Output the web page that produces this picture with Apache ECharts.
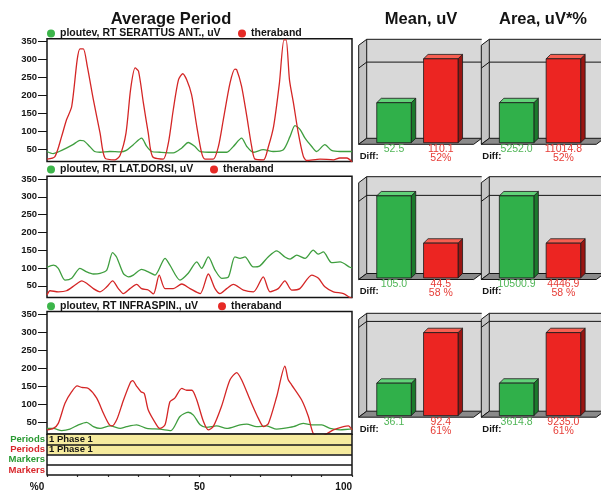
<!DOCTYPE html>
<html>
<head>
<meta charset="utf-8">
<script src="https://cdn.jsdelivr.net/npm/echarts@6/dist/echarts.min.js"></script>
<style>
html,body{margin:0;padding:0;background:#fff;}
#chart{width:601px;height:492px;}
</style>
</head>
<body>
<div id="chart"></div>
<script>
// ---------- data: EMG envelopes (uV) over one averaged period (%) ----------
const serratusPloutev = [[0,45],[2,39],[4,45],[6.5,55],[8.5,64],[10.8,76],[12,75],[14,59],[15.6,45],[17.4,43],[20.6,45],[24,44],[26,48],[28.3,64],[31,82],[32.7,59],[34.3,45],[37,43],[41.4,41],[44.2,55],[46.3,70],[48.5,59],[50.2,45],[54.5,43],[59,43],[61.1,59],[63.8,82],[65.5,59],[67.6,43],[70.9,50],[74.2,45],[77.5,50],[79.7,87],[81.3,117],[83,106],[84.6,82],[86.8,59],[88.4,45],[91.1,64],[93.3,48],[96.1,45],[100,45]];
const serratusTheraband = [[0,24],[2.6,31],[4.8,87],[6.4,133],[8.1,170],[9.9,300],[10.8,330],[11.9,330],[13.2,282],[15.2,189],[17.4,96],[19,27],[22.3,22],[23.9,33],[25.9,96],[27.4,217],[28.9,277],[30,268],[31.6,180],[33.2,96],[34.6,31],[38.1,24],[39.8,69],[41.4,161],[43.1,244],[44.5,261],[45.8,244],[47.4,203],[49.1,115],[50.7,41],[51.8,24],[54.5,24],[56.2,59],[57.8,133],[60,235],[61.6,274],[62.2,272],[63.8,226],[65.5,143],[67.1,59],[68.2,24],[71,22],[72.6,59],[74.3,115],[76.2,235],[77.7,355],[78.4,355],[79.5,244],[80.8,180],[82.4,96],[84,33],[85.1,20],[89.5,24],[93.9,22],[96,27],[98.3,27],[100,16]];
const latDorsiPloutev = [[0,102],[2.1,108],[3.7,99],[5.9,66],[8.1,71],[10.8,99],[13,89],[15.2,83],[17.4,85],[19.6,94],[21.5,143],[22.8,131],[25,85],[26.7,75],[28.3,80],[31,96],[33.2,89],[35.4,80],[38.7,127],[40.3,108],[43.6,66],[46.3,85],[49.1,117],[50.7,99],[52.9,131],[55.1,94],[57.3,71],[59.5,75],[61.6,131],[63.3,127],[64.9,131],[67.6,103],[69.8,106],[72.5,131],[75.3,148],[78,131],[79.7,125],[81.9,136],[84.6,127],[87.3,150],[88.9,139],[90.6,145],[93.3,115],[96.1,117],[99.3,102],[100,100]];
const latDorsiTheraband = [[0,24],[1,36],[3.7,33],[6.4,36],[9.2,52],[11.4,64],[13,57],[15.2,42],[17.4,33],[19.6,47],[21.5,64],[23.4,42],[25,28],[27.2,42],[29.4,54],[31,42],[33.2,38],[34.9,27],[36.8,80],[38.7,42],[41.4,42],[44.2,55],[46.9,42],[50.2,28],[52.9,83],[55.1,42],[56.7,28],[58.9,42],[61.1,54],[64.4,38],[67.7,33],[70.9,75],[73.1,33],[75.8,42],[78,64],[80.2,38],[82.9,42],[86.8,80],[89,71],[91.1,47],[93.9,33],[97.2,28],[99.3,17],[100,15]];
const infraspinPloutev = [[0,33],[2.1,33],[4.8,27],[7.5,31],[10.3,43],[13,50],[15.2,38],[17.4,33],[20.7,40],[24,33],[26.1,38],[29.4,43],[32.7,33],[37,31],[40.6,27],[43.6,66],[46.3,78],[48,70],[50.2,43],[52.3,36],[55.6,40],[58.9,33],[63.3,43],[65.5,45],[68.7,38],[72,40],[75.3,31],[77.5,33],[80.8,38],[84,47],[86.8,43],[90.1,43],[92.8,33],[96.1,29],[99.3,31],[100,31]];
const infraspinTheraband = [[0,29],[2.1,33],[3.7,47],[5.9,103],[8.1,135],[9.9,151],[11.4,147],[13.6,144],[16.3,117],[18.5,75],[20.3,45],[21.3,40],[23,60],[25,110],[27.3,160],[28.1,166],[29.4,150],[30.8,135],[31.9,130],[33.2,84],[35.9,43],[37,33],[38.7,43],[40.3,107],[41.9,117],[44.2,144],[45.8,139],[47.5,139],[49.1,112],[51.3,52],[52.9,29],[54.5,38],[57.2,94],[60,168],[62.2,188],[63.8,168],[66.6,112],[69.3,61],[71,38],[72.6,47],[75.3,121],[78,206],[79.1,168],[80.2,154],[83.5,112],[85.7,66],[87.3,19],[89.5,10],[93.9,29],[97.2,38],[98.8,40],[100,29]];

const ploutevNames = ['ploutev, RT SERATTUS ANT., uV', 'ploutev, RT LAT.DORSI, uV', 'ploutev, RT INFRASPIN., uV'];
const therabandName = 'theraband';
const yTickValues = [50, 100, 150, 200, 250, 300, 350];
const xLabelValues = [0, 50, 100];

// per-muscle summaries
const meanPloutev = [52.5, 105.0, 36.1];
const meanTheraband = [110.1, 44.5, 92.4];
const areaPloutev = [5252.0, 10500.9, 3614.8];
const areaTheraband = [11014.8, 4446.9, 9235.0];
const diffPercent = ['52%', '58 %', '61%'];
const meanGridValue = 100;
const areaGridValue = 10000;

// period / marker rows
const rowLabels = ['Periods', 'Periods', 'Markers', 'Markers'];
const periodEnd = [100, 100];
const periodNames = ['1 Phase 1', '1 Phase 1'];

// ---------- styling ----------
const FONT = 'Liberation Sans, Arial, Helvetica, sans-serif';
const INK = '#141414';
const GREEN_LINE = '#3f9e3f', RED_LINE = '#d42626';
const GREEN_TXT = '#2a9a33', RED_TXT = '#d8262b';
const SHADES = [
  {front: '#30b04a', top: '#62d279', side: '#1b7a2c', text: '#4fb556'},
  {front: '#ec2522', top: '#f75f52', side: '#9a1512', text: '#e63c36'}
];

const chart = echarts.init(document.getElementById('chart'), null, {renderer: 'canvas'});

const lineGrids = [
  {left: 47, width: 305, top: 38.8, height: 122.8},
  {left: 47, width: 305, top: 176.2, height: 121.3},
  {left: 47, width: 305, top: 311.4, height: 122.8}
];
const periodsGrid = {left: 47, width: 305, top: 434.2, height: 43.8};
const barRows = [[39.3, 99], [176.7, 96.8], [313.3, 97.9]];
const barLefts = [375.1, 497.7];

const grid = [], xAxis = [], yAxis = [], series = [];

// ----- line panels -----
const panelSeries = [
  [serratusPloutev, serratusTheraband],
  [latDorsiPloutev, latDorsiTheraband],
  [infraspinPloutev, infraspinTheraband]
];
lineGrids.forEach((g, i) => {
  grid.push(Object.assign({show: true, backgroundColor: '#fff', borderColor: INK, borderWidth: 1.5}, g));
  xAxis.push({gridIndex: i, type: 'value', min: 0, max: 100, show: false});
  yAxis.push({
    gridIndex: i, type: 'value', min: 17, max: 358,
    axisLine: {show: false}, splitLine: {show: false},
    axisTick: {show: true, length: 9, customValues: yTickValues, lineStyle: {color: INK, width: 1}},
    axisLabel: {customValues: yTickValues, margin: 10, fontSize: 9.5, fontWeight: 'bold', fontFamily: FONT, color: INK}
  });
  series.push({
    type: 'line', name: ploutevNames[i], xAxisIndex: i, yAxisIndex: i,
    data: panelSeries[i][0], showSymbol: false, smooth: 0.25, z: 3,
    lineStyle: {color: GREEN_LINE, width: 1.3}, itemStyle: {color: '#3cb54a'}
  });
  series.push({
    type: 'line', name: therabandName, xAxisIndex: i, yAxisIndex: i,
    data: panelSeries[i][1], showSymbol: false, smooth: 0.25, z: 4,
    lineStyle: {color: RED_LINE, width: 1.3}, itemStyle: {color: '#e62a26'}
  });
});

// ----- periods / markers rows -----
grid.push(periodsGrid);
xAxis.push({
  gridIndex: 3, type: 'value', min: 0, max: 100, interval: 10, position: 'bottom',
  axisLine: {show: false}, splitLine: {show: false},
  axisTick: {show: true, length: 2, lineStyle: {color: '#333', width: 1.2}},
  axisLabel: {
    customValues: xLabelValues, margin: 7, fontSize: 10, fontWeight: 'bold', fontFamily: FONT, color: INK,
    alignMinLabel: 'right', alignMaxLabel: 'right',
    formatter: v => (v === 0 ? '%0 ' : String(v))
  }
});
const rowCats = rowLabels.map((t, i) => ({value: t, textStyle: {color: i % 2 === 0 ? GREEN_TXT : RED_TXT}}));
yAxis.push({
  gridIndex: 3, type: 'category', inverse: true, data: rowCats, z: 5,
  axisLine: {show: true, lineStyle: {color: INK, width: 1.5}}, axisTick: {show: false},
  splitLine: {show: true, interval: 0, lineStyle: {color: INK, width: 1.5}},
  axisLabel: {interval: 0, margin: 2, fontSize: 9.5, fontWeight: 'bold', fontFamily: FONT}
});
yAxis.push({
  gridIndex: 3, type: 'category', inverse: true, position: 'right', data: rowCats, z: 5,
  axisLine: {show: true, lineStyle: {color: INK, width: 1.5}}, axisTick: {show: false},
  axisLabel: {show: false}, splitLine: {show: false}
});
series.push({
  type: 'bar', name: 'periods', xAxisIndex: 3, yAxisIndex: 3, barWidth: '100%', silent: true,
  data: [periodEnd[0], periodEnd[1], '-', '-'],
  itemStyle: {color: '#f6eb9e'},
  label: {
    show: true, position: 'insideLeft', distance: 2,
    formatter: p => periodNames[p.dataIndex],
    color: INK, fontSize: 9.5, fontWeight: 'bold', fontFamily: FONT
  }
});

// ----- pseudo-3D summary bars -----
const BDX = 4.5, BDY = 4.4;   // bar depth
const WSX = 8, WSY = 6;       // wall / floor depth

function frameRenderer(gridValue) {
  return function (params, api) {
    const cs = params.coordSys;
    const wl = cs.x - 8.4, wr = wl + 115, top = cs.y, bot = cs.y + cs.height;
    const yg = api.coord([0, gridValue])[1];
    const edge = {stroke: INK, lineWidth: 1};
    return {type: 'group', children: [
      {type: 'rect', shape: {x: wl, y: top, width: wr - wl, height: bot - top}, style: {fill: '#d8d8d8'}},
      {type: 'polygon', shape: {points: [[wl - WSX, top + WSY], [wl, top], [wl, bot], [wl - WSX, bot + WSY]]},
        style: Object.assign({fill: '#c4c4c4'}, edge)},
      {type: 'polygon', shape: {points: [[wl, bot], [wr, bot], [wr - WSX, bot + WSY], [wl - WSX, bot + WSY]]},
        style: Object.assign({fill: '#8a8a8a'}, edge)},
      {type: 'polyline', shape: {points: [[wl, top], [wr, top]]}, style: Object.assign({fill: null}, edge)},
      {type: 'polyline', shape: {points: [[wl - WSX, yg + WSY], [wl, yg], [wr, yg]]}, style: Object.assign({fill: null}, edge)},
      {type: 'text', style: {text: 'Diff:', x: wl - 7, y: bot + 18, fill: INK, fontSize: 9.5, fontWeight: 'bold',
        fontFamily: FONT, align: 'left', verticalAlign: 'middle', textAlign: 'left', textVerticalAlign: 'middle'}}
    ]};
  };
}

function barRenderer(pctText) {
  return function (params, api) {
    const i = api.value(0), v = api.value(1);
    const tp = api.coord([i, v]), bp = api.coord([i, 0]);
    const w = api.size([1, 0])[0] * 0.737;
    const bl = tp[0] - w / 2, br = tp[0] + w / 2;
    const fl = bl - BDX, fr = br - BDX, ft = tp[1] + BDY, fb = bp[1] + BDY;
    const c = SHADES[i];
    const edge = {stroke: '#1a1a1a', lineWidth: 0.8};
    const kids = [
      {type: 'polygon', shape: {points: [[br, tp[1]], [br, bp[1]], [fr, fb], [fr, ft]]}, style: Object.assign({fill: c.side}, edge)},
      {type: 'polygon', shape: {points: [[bl, tp[1]], [br, tp[1]], [fr, ft], [fl, ft]]}, style: Object.assign({fill: c.top}, edge)},
      {type: 'rect', shape: {x: fl, y: ft, width: w, height: fb - ft}, style: Object.assign({fill: c.front}, edge)},
      {type: 'text', style: {text: v.toFixed(1), x: (fl + fr) / 2, y: bp[1] + 11, fill: c.text, fontSize: 10.5,
        fontFamily: FONT, align: 'center', verticalAlign: 'middle', textAlign: 'center', textVerticalAlign: 'middle'}}
    ];
    if (i === 1) {
      kids.push({type: 'text', style: {text: pctText, x: (fl + fr) / 2, y: bp[1] + 19.5, fill: c.text, fontSize: 10.5,
        fontFamily: FONT, align: 'center', verticalAlign: 'middle', textAlign: 'center', textVerticalAlign: 'middle'}});
    }
    return {type: 'group', children: kids};
  };
}

const barSets = [
  [meanPloutev, meanTheraband, meanGridValue],
  [areaPloutev, areaTheraband, areaGridValue]
];
barRows.forEach((row, r) => {
  barSets.forEach((set, c) => {
    const gi = grid.length;
    const yi = yAxis.length;
    grid.push({left: barLefts[c], width: 93.6, top: row[0], height: row[1]});
    xAxis.push({gridIndex: gi, type: 'category', data: ['ploutev', 'theraband'], show: false});
    yAxis.push({gridIndex: gi, type: 'value', min: 0, max: Math.max(set[0][r], set[1][r]) * 1.18, show: false});
    series.push({
      type: 'custom', name: 'frame', xAxisIndex: gi, yAxisIndex: yi, z: 1, silent: true,
      data: [[0, 0]], renderItem: frameRenderer(set[2])
    });
    series.push({
      type: 'custom', name: c === 0 ? 'mean' : 'area', xAxisIndex: gi, yAxisIndex: yi, z: 2, silent: true,
      data: [[0, set[0][r]], [1, set[1][r]]], renderItem: barRenderer(diffPercent[r])
    });
  });
});

// ----- legends -----
const legendBase = {
  orient: 'horizontal', icon: 'circle', itemWidth: 8, itemHeight: 8, itemGap: 0, padding: 0,
  selectedMode: false,
  textStyle: {fontSize: 10.5, fontWeight: 'bold', fontFamily: FONT, color: INK}
};
const legendTops = [28, 164, 300.7];
const redLegendLefts = [238, 210, 218];
const legend = [];
legendTops.forEach((t, i) => {
  legend.push(Object.assign({}, legendBase, {left: 47, top: t, data: [{name: ploutevNames[i], itemStyle: {color: '#3cb54a'}}]}));
  legend.push(Object.assign({}, legendBase, {left: redLegendLefts[i], top: t, data: [{name: therabandName, itemStyle: {color: '#e62a26'}}]}));
});

// ----- headers -----
function header(text, x) {
  return {type: 'text', x: x, y: 19.5, silent: true, style: {
    text: text, fill: INK, fontSize: 16.5, fontWeight: 'bold', fontFamily: FONT,
    align: 'center', verticalAlign: 'middle', textAlign: 'center', textVerticalAlign: 'middle'
  }};
}

chart.setOption({
  animation: false,
  backgroundColor: '#fff',
  grid, xAxis, yAxis, series, legend,
  graphic: [header('Average Period', 171), header('Mean, uV', 421), header('Area, uV*%', 543)]
});
</script>
</body>
</html>
